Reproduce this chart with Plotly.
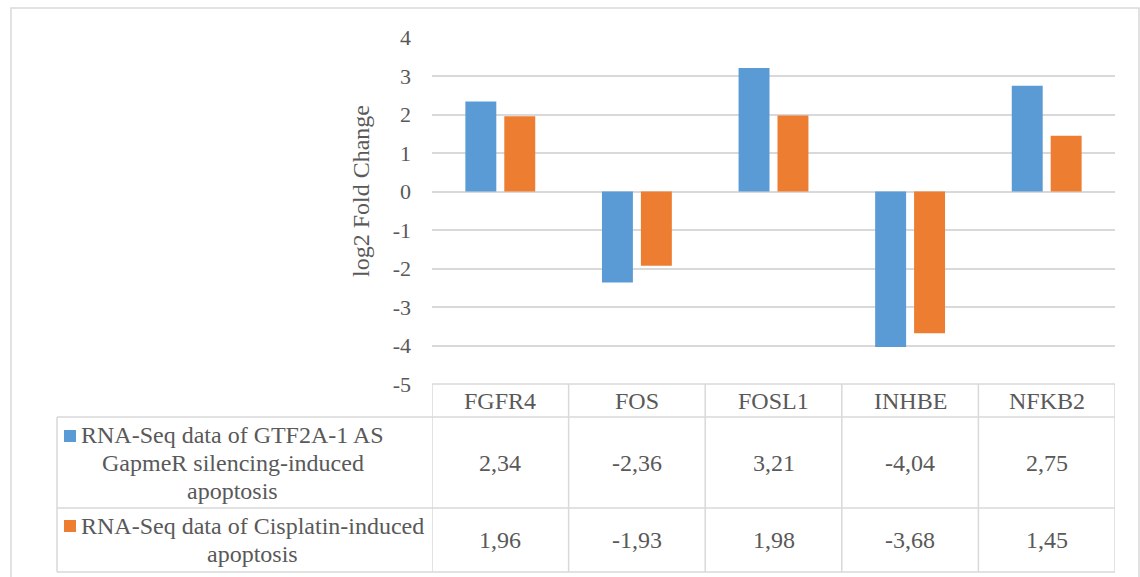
import plotly.graph_objects as go

# ---- data ----
genes = ["FGFR4", "FOS", "FOSL1", "INHBE", "NFKB2"]
gapmer_values = [2.34, -2.36, 3.21, -4.04, 2.75]
cisplatin_values = [1.96, -1.93, 1.98, -3.68, 1.45]
gapmer_label_lines = ["RNA-Seq data of GTF2A-1 AS", "GapmeR silencing-induced", "apoptosis"]
cisplatin_label_lines = ["RNA-Seq data of Cisplatin-induced", "apoptosis"]
y_tick_values = [-5, -4, -3, -2, -1, 0, 1, 2, 3, 4]
y_tick_labels = ["-5", "-4", "-3", "-2", "-1", "0", "1", "2", "3", "4"]
y_title = "log2 Fold Change"

# ---- style ----
W, H = 1140, 577
BLUE = "#5B9BD5"
ORANGE = "#ED7D31"
GRID = "#D9D9D9"
TXT = "#595959"
FONT = "Liberation Serif, Times New Roman, serif"
FS = 24
FS_TICK = 22


def px(x):
    return x / W


def py(y):
    return 1 - y / H


PLOT_L, PLOT_R, PLOT_T, PLOT_B = 432, 1115, 37.7, 384
ROW1_T, ROW2_T, TABLE_B, TABLE_L = 417, 508, 572, 57

fig = go.Figure()
fig.add_trace(go.Bar(x=genes, y=gapmer_values, marker=dict(color=BLUE, line=dict(width=0)),
                     name="GapmeR"))
fig.add_trace(go.Bar(x=genes, y=cisplatin_values, marker=dict(color=ORANGE, line=dict(width=0)),
                     name="Cisplatin"))

shapes = []
# outer border
shapes.append(dict(type="rect", xref="paper", yref="paper", x0=px(11), x1=px(1139),
                   y0=py(585), y1=py(8), line=dict(color=GRID, width=1.5), layer="below"))
line_style = dict(color=GRID, width=1.5)
n = len(genes)
# horizontal table lines
shapes.append(dict(type="line", xref="x", yref="paper", x0=-0.5, x1=n - 0.5,
                   y0=py(PLOT_B), y1=py(PLOT_B), line=line_style))
for yy in (ROW1_T, ROW2_T, TABLE_B):
    shapes.append(dict(type="line", xref="paper", yref="paper", x0=px(TABLE_L), x1=px(PLOT_R),
                       y0=py(yy), y1=py(yy), line=line_style))
# vertical table lines
for i in range(n + 1):
    shapes.append(dict(type="line", xref="x", yref="paper", x0=i - 0.5, x1=i - 0.5,
                       y0=py(PLOT_B), y1=py(TABLE_B), line=line_style))
shapes.append(dict(type="line", xref="paper", yref="paper", x0=px(TABLE_L), x1=px(TABLE_L),
                   y0=py(ROW1_T), y1=py(TABLE_B), line=line_style))
# legend keys
for color, cy in ((BLUE, 436), (ORANGE, 526)):
    shapes.append(dict(type="rect", xref="paper", yref="paper", x0=px(64), x1=px(76),
                       y0=py(cy + 6), y1=py(cy - 6), fillcolor=color, line=dict(width=0)))

annotations = []
tf = dict(family=FONT, size=FS, color=TXT)
for g in genes:
    annotations.append(dict(x=g, xref="x", y=py(400.5), yref="paper", text=g, showarrow=False,
                            font=tf, xanchor="center", yanchor="middle"))
for g, v in zip(genes, gapmer_values):
    annotations.append(dict(x=g, xref="x", y=py(463), yref="paper",
                            text=f"{v:.2f}".replace(".", ","), showarrow=False, font=tf,
                            xanchor="center", yanchor="middle"))
for g, v in zip(genes, cisplatin_values):
    annotations.append(dict(x=g, xref="x", y=py(540), yref="paper",
                            text=f"{v:.2f}".replace(".", ","), showarrow=False, font=tf,
                            xanchor="center", yanchor="middle"))
# row labels, one annotation per wrapped line (Excel line spacing ~27.5px)
for lines, cx, first_y in ((gapmer_label_lines, 232.5, 435), (cisplatin_label_lines, 252, 526)):
    for k, line in enumerate(lines):
        annotations.append(dict(x=px(cx), y=py(first_y + 28 * k), xref="paper", yref="paper",
                                text=line, showarrow=False, font=tf, xanchor="center",
                                yanchor="middle"))
annotations.append(dict(x=px(361), y=py(191), xref="paper", yref="paper", text=y_title,
                        showarrow=False, font=tf, textangle=-90, xanchor="center", yanchor="middle"))

fig.update_layout(
    width=W, height=H, autosize=False,
    margin=dict(l=0, r=0, t=0, b=0, pad=0, autoexpand=False),
    paper_bgcolor="white", plot_bgcolor="white",
    showlegend=False,
    barmode="group", bargap=0.43, bargroupgap=0.205,
    xaxis=dict(domain=[px(PLOT_L), px(PLOT_R)], showticklabels=False, showgrid=False,
               zeroline=False, showline=False, range=[-0.5, n - 0.5], automargin=False),
    yaxis=dict(domain=[py(PLOT_B), py(PLOT_T)], range=[-5, 4], tickvals=y_tick_values,
               ticktext=y_tick_labels, showgrid=True, gridcolor=GRID, gridwidth=1.5,
               zeroline=False, showline=False, ticks="", automargin=False,
               tickfont=dict(family=FONT, size=FS_TICK, color=TXT), ticklabelstandoff=20),
    shapes=shapes,
    annotations=annotations,
)

fig.write_html(
    "out.html",
    config={"responsive": False, "displayModeBar": False},
    post_script="document.body.style.margin='0';document.body.style.overflow='hidden';",
)
